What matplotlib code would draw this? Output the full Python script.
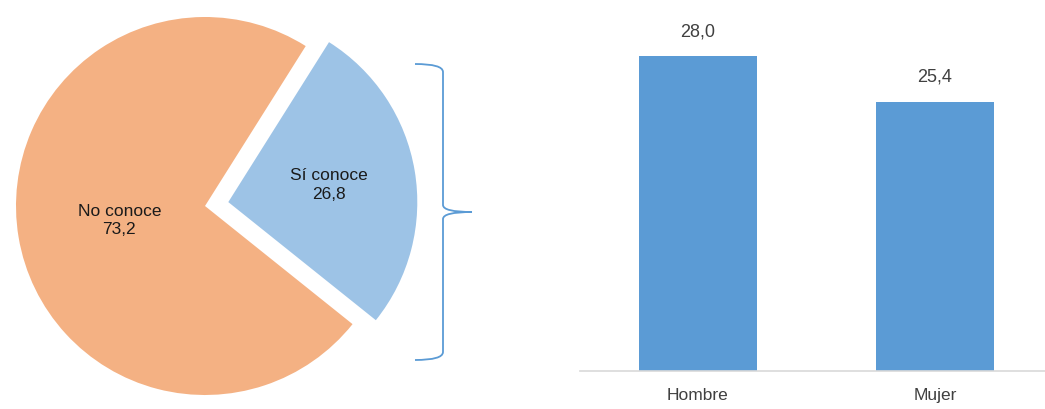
import matplotlib.pyplot as plt
from matplotlib.path import Path
from matplotlib.patches import PathPatch
import numpy as np

# data
pie_labels = ["No conoce", "Sí conoce"]
pie_values = [73.2, 26.8]
pie_text = ["73,2", "26,8"]
pie_colors = ["#F4B183", "#9DC3E6"]

bar_labels = ["Hombre", "Mujer"]
bar_values = [28.0, 25.4]
bar_text = ["28,0", "25,4"]

W, H = 1045, 409
plt.rcParams['font.family'] = ['Liberation Sans', 'DejaVu Sans']

fig = plt.figure(figsize=(W / 100, H / 100), dpi=100)

# pie axes, 189 px per data unit, pie centre at pixel (205, 206 from top)
cx, cy, R = 205, H - 206, 189
ax1 = fig.add_axes([0, 0, 520 / W, 1])

wedges, _ = ax1.pie(pie_values, colors=pie_colors, startangle=57.8,
                    explode=[0, 0.125], radius=1, frame=True)
ax1.set_xlim(-cx / R, (520 - cx) / R)
ax1.set_ylim(-cy / R, (H - cy) / R)
ax1.set_aspect('auto')
ax1.axis('off')

label_dist = [0.46, 0.54]
for w, lab, txt, d in zip(wedges, pie_labels, pie_text, label_dist):
    ang = np.deg2rad((w.theta1 + w.theta2) / 2)
    x0, y0 = w.center
    ax1.text(x0 + d * np.cos(ang), y0 + d * np.sin(ang), lab + "\n" + txt,
             ha='center', va='center', fontsize=12.5, color='#1a1a1a',
             linespacing=1.3)

# bracket (in pixel coords converted to data)
def px(x, y):
    return ((x - cx) / R, (H - y - cy) / R)

verts = [px(415, 64), px(443, 64), px(443, 72),
         px(443, 205),
         px(443, 212), px(472, 212),
         px(443, 212), px(443, 219),
         px(443, 352),
         px(443, 360), px(415, 360)]
codes = [Path.MOVETO, Path.CURVE3, Path.CURVE3,
         Path.LINETO,
         Path.CURVE3, Path.CURVE3,
         Path.CURVE3, Path.CURVE3,
         Path.LINETO,
         Path.CURVE3, Path.CURVE3]
ax1.add_patch(PathPatch(Path(verts, codes), fill=False, edgecolor='#5B9BD5',
                        lw=1.3, clip_on=False))

# bar axes
ax2 = fig.add_axes([580 / W, 38 / H, 465 / W, (H - 38) / H])
x = np.arange(len(bar_values))
bars = ax2.bar(x, bar_values, width=0.498, color='#5B9BD5')
ax2.set_ylim(10, 10 + (H - 38) / 17.5)
ax2.set_xlim(-(698 - 580) / 237, 1 + (1045 - 935) / 237)
for s in ['top', 'right', 'left']:
    ax2.spines[s].set_visible(False)
ax2.spines['bottom'].set_color('#D9D9D9')
ax2.spines['bottom'].set_linewidth(1.2)
ax2.set_yticks([])
ax2.set_xticks(x)
ax2.set_xticklabels(bar_labels, fontsize=12.5, color='#404040')
ax2.tick_params(axis='x', length=0, pad=12)
for b, t in zip(bars, bar_text):
    ax2.annotate(t, (b.get_x() + b.get_width() / 2, b.get_height()),
                 xytext=(0, 17.5), textcoords='offset points',
                 ha='center', va='center', fontsize=13, color='#404040')

fig.savefig('out.png', dpi=100)
